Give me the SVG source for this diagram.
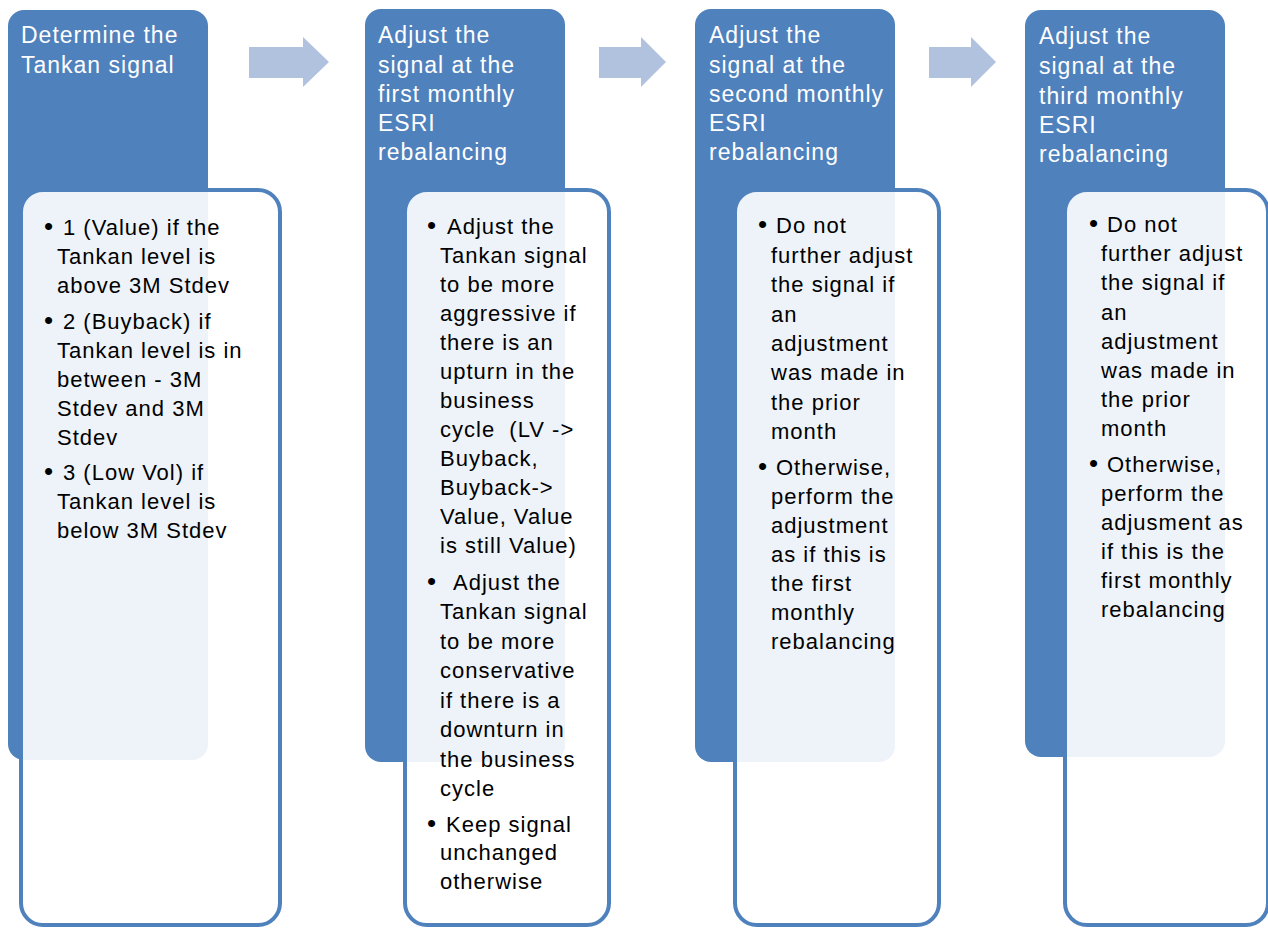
<svg xmlns="http://www.w3.org/2000/svg" width="1268" height="928" viewBox="0 0 1268 928">
<style>
.hdr{fill:#4F81BD;}
.box{fill:#FFFFFF;fill-opacity:0.9;stroke:#4F81BD;stroke-width:4;}
.ht{font-family:"Liberation Sans",Arial,sans-serif;font-size:23px;fill:#FFFFFF;letter-spacing:1px;}
.bt{font-family:"Liberation Sans",Arial,sans-serif;font-size:22px;fill:#000000;letter-spacing:1px;}
.bu{font-size:26px;}
.arrow{fill:#B1C2DF;}
</style>
<rect width="1268" height="928" fill="#FFFFFF"/>
<g id="connectors">
<path class="arrow" d="M249,47 H303 V37 L329,62 L303,87 V78 H249 Z"/>
<path class="arrow" d="M599,47 H641 V37 L666,62 L641,87 V78 H599 Z"/>
<path class="arrow" d="M929,47 H971 V37 L996,62 L971,87 V78 H929 Z"/>
</g>
<g id="step1">
<rect class="hdr" x="8" y="10" width="200" height="750" rx="16"/>
<rect class="box" x="21" y="190" width="259" height="735" rx="22"/>
<text class="ht"><tspan x="21" y="43">Determine the</tspan><tspan x="21" y="73">Tankan signal</tspan></text>
<text class="bt">
<tspan class="bu" x="44" y="235">•</tspan><tspan x="63" y="235">1 (Value) if the</tspan>
<tspan x="57" y="264">Tankan level is</tspan>
<tspan x="57" y="293">above 3M Stdev</tspan>
<tspan class="bu" x="44" y="329">•</tspan><tspan x="63" y="329">2 (Buyback) if</tspan>
<tspan x="57" y="358">Tankan level is in</tspan>
<tspan x="57" y="387">between - 3M</tspan>
<tspan x="57" y="416">Stdev and 3M</tspan>
<tspan x="57" y="445">Stdev</tspan>
<tspan class="bu" x="44" y="480">•</tspan><tspan x="63" y="480">3 (Low Vol) if</tspan>
<tspan x="57" y="509">Tankan level is</tspan>
<tspan x="57" y="538">below 3M Stdev</tspan>
</text>
</g>
<g id="step2">
<rect class="hdr" x="365" y="9" width="200" height="753" rx="16"/>
<rect class="box" x="405" y="190" width="204" height="735" rx="22"/>
<text class="ht"><tspan x="378" y="43">Adjust the</tspan><tspan x="378" y="73">signal at the</tspan><tspan x="378" y="102">first monthly</tspan><tspan x="378" y="131">ESRI</tspan><tspan x="378" y="160">rebalancing</tspan></text>
<text class="bt">
<tspan class="bu" x="427" y="234">•</tspan><tspan x="447" y="234">Adjust the</tspan>
<tspan x="440" y="263">Tankan signal</tspan>
<tspan x="440" y="292">to be more</tspan>
<tspan x="440" y="321">aggressive if</tspan>
<tspan x="440" y="350">there is an</tspan>
<tspan x="440" y="379">upturn in the</tspan>
<tspan x="440" y="408">business</tspan>
<tspan x="440" y="437">cycle&#160; (LV -&gt;</tspan>
<tspan x="440" y="466">Buyback,</tspan>
<tspan x="440" y="495">Buyback-&gt;</tspan>
<tspan x="440" y="524">Value, Value</tspan>
<tspan x="440" y="553">is still Value)</tspan>
<tspan class="bu" x="427" y="590">•</tspan><tspan x="453" y="590">Adjust the</tspan>
<tspan x="440" y="619">Tankan signal</tspan>
<tspan x="440" y="649">to be more</tspan>
<tspan x="440" y="678">conservative</tspan>
<tspan x="440" y="708">if there is a</tspan>
<tspan x="440" y="737">downturn in</tspan>
<tspan x="440" y="767">the business</tspan>
<tspan x="440" y="796">cycle</tspan>
<tspan class="bu" x="427" y="832">•</tspan><tspan x="446" y="832">Keep signal</tspan>
<tspan x="440" y="860">unchanged</tspan>
<tspan x="440" y="889">otherwise</tspan>
</text>
</g>
<g id="step3">
<rect class="hdr" x="695" y="9" width="200" height="753" rx="16"/>
<rect class="box" x="735" y="190" width="204" height="735" rx="22"/>
<text class="ht"><tspan x="709" y="43">Adjust the</tspan><tspan x="709" y="73">signal at the</tspan><tspan x="709" y="102">second monthly</tspan><tspan x="709" y="131">ESRI</tspan><tspan x="709" y="160">rebalancing</tspan></text>
<text class="bt">
<tspan class="bu" x="758" y="233">•</tspan><tspan x="776" y="233">Do not</tspan>
<tspan x="771" y="263">further adjust</tspan>
<tspan x="771" y="292">the signal if</tspan>
<tspan x="771" y="322">an</tspan>
<tspan x="771" y="351">adjustment</tspan>
<tspan x="771" y="380">was made in</tspan>
<tspan x="771" y="410">the prior</tspan>
<tspan x="771" y="439">month</tspan>
<tspan class="bu" x="758" y="475">•</tspan><tspan x="776" y="475">Otherwise,</tspan>
<tspan x="771" y="504">perform the</tspan>
<tspan x="771" y="533">adjustment</tspan>
<tspan x="771" y="562">as if this is</tspan>
<tspan x="771" y="591">the first</tspan>
<tspan x="771" y="620">monthly</tspan>
<tspan x="771" y="649">rebalancing</tspan>
</text>
</g>
<g id="step4">
<rect class="hdr" x="1025" y="10" width="200" height="747" rx="16"/>
<rect class="box" x="1065" y="190" width="203" height="735" rx="22"/>
<text class="ht"><tspan x="1039" y="44">Adjust the</tspan><tspan x="1039" y="74">signal at the</tspan><tspan x="1039" y="104">third monthly</tspan><tspan x="1039" y="133">ESRI</tspan><tspan x="1039" y="162">rebalancing</tspan></text>
<text class="bt">
<tspan class="bu" x="1089" y="232">•</tspan><tspan x="1107" y="232">Do not</tspan>
<tspan x="1101" y="261">further adjust</tspan>
<tspan x="1101" y="290">the signal if</tspan>
<tspan x="1101" y="320">an</tspan>
<tspan x="1101" y="349">adjustment</tspan>
<tspan x="1101" y="378">was made in</tspan>
<tspan x="1101" y="407">the prior</tspan>
<tspan x="1101" y="436">month</tspan>
<tspan class="bu" x="1089" y="472">•</tspan><tspan x="1107" y="472">Otherwise,</tspan>
<tspan x="1101" y="501">perform the</tspan>
<tspan x="1101" y="530">adjusment as</tspan>
<tspan x="1101" y="559">if this is the</tspan>
<tspan x="1101" y="588">first monthly</tspan>
<tspan x="1101" y="617">rebalancing</tspan>
</text>
</g>
</svg>
